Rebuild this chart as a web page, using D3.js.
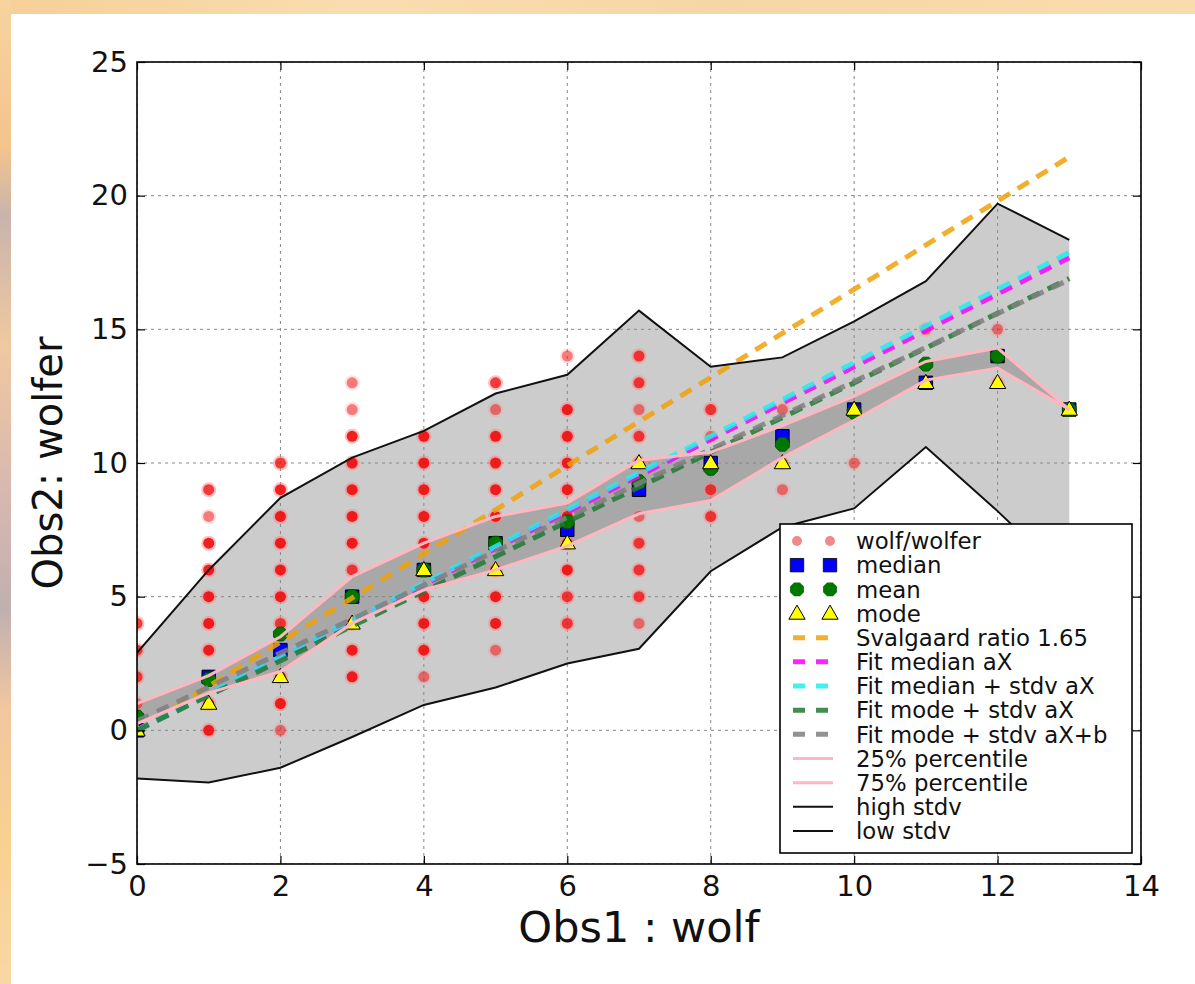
<!DOCTYPE html>
<html><head><meta charset="utf-8">
<script src="https://cdn.jsdelivr.net/npm/d3@7"></script>
<style>html,body{margin:0;padding:0;background:#fff;} svg{display:block;} text{font-family:"DejaVu Sans",sans-serif;}</style>
</head><body><svg id="c" width="1195" height="984"></svg>
<script>
// ---------------- data ----------------
const obs1 = [0,1,2,3,4,5,6,7,8,9,10,11,12,13];
const medianVals = [0,2,3,5,6,7,7.5,9,10,11,12,13,14,12];
const meanVals   = [0.5,1.9,3.6,5.0,6.0,7.0,7.8,9.3,9.8,10.7,11.9,13.7,14.0,12.0];
const modeVals   = [0,1,2,4,6,6,7,10,10,10,12,13,13,12];
const highStd    = [2.9,6.0,8.7,10.2,11.2,12.6,13.3,15.7,13.6,13.95,15.3,16.8,19.7,18.35];
const lowStd     = [-1.8,-1.95,-1.4,-0.25,0.95,1.6,2.5,3.05,5.95,7.6,8.3,10.6,8.2,5.65];
const p25        = [0.25,1.4,2.2,4.0,5.25,6.0,6.9,8.1,8.6,10.2,11.6,13.1,13.55,12];
const p75        = [1.0,2.05,3.5,5.75,7.0,8.0,8.5,10.1,10.4,11.4,12.5,13.8,14.3,12];
// scatter observations: [wolf, wolfer, approx count]
const wolfX = [0,0,0,0,0, 1,1,1,1,1,1,1,1,1,1, 2,2,2,2,2,2,2,2,2,2,2, 3,3,3,3,3,3,3,3,3,3,3,3, 4,4,4,4,4,4,4,4,4,4, 5,5,5,5,5,5,5,5,5,5,5, 6,6,6,6,6,6,6,6,6,6, 7,7,7,7,7,7,7,7,7,7,7, 8,8,8,8,8, 9,9,9,9, 10,10, 11,11, 12,12,12, 13];
const wolferY = [0,1,2,3,4, 0,1,2,3,4,5,6,7,8,9, 0,1,2,3,4,5,6,7,8,9,10, 2,3,4,5,6,7,8,9,10,11,12,13, 2,3,4,5,6,7,8,9,10,11, 3,4,5,6,7,8,9,10,11,12,13, 4,5,6,7,8,9,10,11,12,14, 4,5,6,7,8,9,10,11,12,13,14, 8,9,10,11,12, 9,10,11,12, 10,12, 13,15, 13,14,15, 12];
const counts = [5,1,2,2,2, 3,3,3,3,3,3,3,3,1,2, 1,3,3,3,2,3,3,3,3,3,2, 3,3,3,3,2,3,3,3,3,3,1,1, 1,3,3,3,3,3,3,3,3,3, 1,3,3,3,3,3,3,3,3,1,2, 2,2,3,2,3,3,3,3,3,1, 1,2,2,2,1,2,2,2,1,2,2, 2,2,2,1,2, 1,1,2,1, 1,2, 2,1, 1,2,1, 2];
const svalgaardRatio = 1.65;
const fitMedianA = 1.36;
const fitMedianStdA = 1.375;
const fitModeStdA = 1.30;
const fitModeStdAb = [1.27, 0.35];
const xTicks = [0,2,4,6,8,10,12,14];
const yTicks = [-5,0,5,10,15,20,25];
const legendLabels = ["wolf/wolfer","median","mean","mode","Svalgaard ratio 1.65","Fit median aX","Fit median + stdv aX","Fit mode + stdv aX","Fit mode + stdv aX+b","25% percentile","75% percentile","high stdv","low stdv"];

// ---------------- layout ----------------
const svg = d3.select("#c");
const L = 137, R = 1141, T = 62, B = 864;
const x = d3.scaleLinear().domain([0,14]).range([L,R]);
const y = d3.scaleLinear().domain([-5,25]).range([B,T]);

// background strip
const defs = svg.append("defs");
const g1 = defs.append("linearGradient").attr("id","lstrip").attr("x1",0).attr("y1",0).attr("x2",0).attr("y2",1);
[["0%","#f7d3a0"],["15%","#f4c48c"],["22%","#c8b4ac"],["35%","#f0c8a0"],["50%","#d8b8b0"],["62%","#c0b0b0"],["72%","#f2c6a0"],["85%","#f8d090"],["100%","#f9d7a4"]]
 .forEach(s=>g1.append("stop").attr("offset",s[0]).attr("stop-color",s[1]));
const g2 = defs.append("linearGradient").attr("id","tstrip").attr("x1",0).attr("y1",0).attr("x2",1).attr("y2",0);
[["0%","#f6cf98"],["30%","#f9ddb0"],["60%","#f6d6a6"],["100%","#f9dcae"]]
 .forEach(s=>g2.append("stop").attr("offset",s[0]).attr("stop-color",s[1]));
svg.append("rect").attr("x",0).attr("y",0).attr("width",1195).attr("height",14).attr("fill","url(#tstrip)");
svg.append("rect").attr("x",0).attr("y",0).attr("width",11).attr("height",984).attr("fill","url(#lstrip)");
svg.append("rect").attr("x",11).attr("y",14).attr("width",1184).attr("height",970).attr("fill","#fff");

defs.append("clipPath").attr("id","plotclip").append("rect").attr("x",L).attr("y",T).attr("width",R-L).attr("height",B-T);
const plot = svg.append("g").attr("clip-path","url(#plotclip)");

// fills
const areaStd = d3.area().x((d,i)=>x(obs1[i])).y0((d,i)=>y(lowStd[i])).y1((d,i)=>y(highStd[i]));
plot.append("path").datum(obs1).attr("d",areaStd).attr("fill","#cccccc");
const areaPct = d3.area().x((d,i)=>x(obs1[i])).y0((d,i)=>y(p25[i])).y1((d,i)=>y(p75[i]));
plot.append("path").datum(obs1).attr("d",areaPct).attr("fill","#a8a8a8");

// grid
const grid = plot.append("g").attr("stroke","#888").attr("stroke-width",1).attr("stroke-dasharray","3,4");
xTicks.forEach(t=>grid.append("line").attr("x1",x(t)).attr("x2",x(t)).attr("y1",T).attr("y2",B));
yTicks.forEach(t=>grid.append("line").attr("y1",y(t)).attr("y2",y(t)).attr("x1",L).attr("x2",R));

// scatter dots
const dots = plot.append("g");
wolfX.forEach((wx,i)=>{
  const n = counts[i];
  const op = 1 - Math.pow(1-0.45, n);
  dots.append("circle").attr("cx",x(wx)).attr("cy",y(wolferY[i])).attr("r",7.5).attr("fill","#ff8080").attr("opacity",0.25*Math.min(n,2));
  dots.append("circle").attr("cx",x(wx)).attr("cy",y(wolferY[i])).attr("r",5.5).attr("fill","#ee0000").attr("opacity",op);
});

// markers
const octagon = (r)=>{const p=[];for(let k=0;k<8;k++){const a=Math.PI/8+k*Math.PI/4;p.push([r*Math.cos(a),r*Math.sin(a)]);}return "M"+p.map(q=>q.join(",")).join("L")+"Z";};
const sq = d3.symbol().type(d3.symbolSquare).size(180);
const tri = d3.symbol().type(d3.symbolTriangle).size(115);
plot.append("g").selectAll("path").data(obs1).join("path")
  .attr("d",sq).attr("transform",(d,i)=>`translate(${x(d)},${y(medianVals[i])})`)
  .attr("fill","#0000ff").attr("stroke","#000").attr("stroke-width",1);
plot.append("g").selectAll("path").data(obs1).join("path")
  .attr("d",octagon(7.5)).attr("transform",(d,i)=>`translate(${x(d)},${y(meanVals[i])})`)
  .attr("fill","#007800").attr("stroke","#004400").attr("stroke-width",0.8);
plot.append("g").selectAll("path").data(obs1).join("path")
  .attr("d",tri).attr("transform",(d,i)=>`translate(${x(d)},${y(modeVals[i])+1})`)
  .attr("fill","#ffff00").attr("stroke","#000").attr("stroke-width",1);

// fit lines
const x0 = obs1[0], x1 = obs1[obs1.length-1];
const fits = [
  {a:svalgaardRatio,b:0,c:"#f0a20a"},
  {a:fitMedianA,b:0,c:"#ff00ff"},
  {a:fitMedianStdA,b:0,c:"#22eeee"},
  {a:fitModeStdA,b:0,c:"#227a33"},
  {a:fitModeStdAb[0],b:fitModeStdAb[1],c:"#808080"}
];
const fitG = plot.append("g");
fits.forEach(f=>{
  fitG.append("line").attr("x1",x(x0)).attr("y1",y(f.a*x0+f.b)).attr("x2",x(x1)).attr("y2",y(f.a*x1+f.b))
    .attr("stroke",f.c).attr("stroke-width",5).attr("stroke-dasharray","13,9").attr("opacity",0.85);
});

// percentile & std lines
const line = arr => d3.line().x((d,i)=>x(obs1[i])).y((d,i)=>y(arr[i]))(obs1);
plot.append("path").attr("d",line(p25)).attr("fill","none").attr("stroke","#ffb6c1").attr("stroke-width",3);
plot.append("path").attr("d",line(p75)).attr("fill","none").attr("stroke","#ffb6c1").attr("stroke-width",3);
plot.append("path").attr("d",line(highStd)).attr("fill","none").attr("stroke","#111").attr("stroke-width",2);
plot.append("path").attr("d",line(lowStd)).attr("fill","none").attr("stroke","#111").attr("stroke-width",2);

// axes with inward ticks
const fmt = d => d<0 ? "\u2212"+Math.abs(d) : String(d);
const axL = svg.append("g").attr("transform",`translate(${L},0)`).call(d3.axisLeft(y).tickValues(yTicks).tickFormat(fmt).tickSize(-8).tickPadding(9));
const axR = svg.append("g").attr("transform",`translate(${R},0)`).call(d3.axisRight(y).tickValues(yTicks).tickFormat("").tickSize(-8));
const axB = svg.append("g").attr("transform",`translate(0,${B})`).call(d3.axisBottom(x).tickValues(xTicks).tickFormat(fmt).tickSize(-8).tickPadding(11));
const axT = svg.append("g").attr("transform",`translate(0,${T})`).call(d3.axisTop(x).tickValues(xTicks).tickFormat("").tickSize(-8));
[axL,axR,axB,axT].forEach(a=>{a.select(".domain").remove();a.selectAll(".tick line").attr("stroke","#000").attr("stroke-width",1.2);
  a.selectAll("text").attr("font-size",29).attr("fill","#111").attr("font-family","DejaVu Sans");});
svg.append("rect").attr("x",L).attr("y",T).attr("width",R-L).attr("height",B-T).attr("fill","none").attr("stroke","#000").attr("stroke-width",1.6);

// axis labels
svg.append("text").attr("x",(L+R)/2).attr("y",942).attr("text-anchor","middle").attr("font-size",43).attr("fill","#111").text("Obs1 : wolf");
svg.append("text").attr("transform",`translate(62,${(T+B)/2}) rotate(-90)`).attr("text-anchor","middle").attr("font-size",40).attr("fill","#111").text("Obs2: wolfer");

// legend
const lg = svg.append("g");
lg.append("rect").attr("x",780).attr("y",524).attr("width",352).attr("height",329).attr("fill","#fff").attr("stroke","#000").attr("stroke-width",1.6);
const rowY = i => 541 + i*24.17;
const mx1 = 797, mx2 = 830;
legendLabels.forEach((lab,i)=>{
  lg.append("text").attr("x",856).attr("y",rowY(i)).attr("dy","0.36em").attr("font-size",22.8).attr("fill","#111").text(lab);
});
// sample markers
[mx1,mx2].forEach(mx=>{
  lg.append("circle").attr("cx",mx).attr("cy",rowY(0)).attr("r",5).attr("fill","#f08a8a");
  lg.append("path").attr("d",sq).attr("transform",`translate(${mx},${rowY(1)})`).attr("fill","#0000ff").attr("stroke","#000").attr("stroke-width",0.8);
  lg.append("path").attr("d",octagon(7.5)).attr("transform",`translate(${mx},${rowY(2)})`).attr("fill","#007800");
  lg.append("path").attr("d",tri).attr("transform",`translate(${mx},${rowY(3)+1})`).attr("fill","#ffff00").attr("stroke","#000").attr("stroke-width",1);
});
fits.forEach((f,k)=>{
  lg.append("line").attr("x1",793).attr("x2",833).attr("y1",rowY(4+k)).attr("y2",rowY(4+k))
    .attr("stroke",f.c).attr("stroke-width",5).attr("stroke-dasharray","12,11").attr("opacity",0.85);
});
[["#ffb6c1",3],["#ffb6c1",3],["#111",2],["#111",2]].forEach((s,k)=>{
  lg.append("line").attr("x1",793).attr("x2",833).attr("y1",rowY(9+k)).attr("y2",rowY(9+k)).attr("stroke",s[0]).attr("stroke-width",s[1]);
});
</script></body></html>
